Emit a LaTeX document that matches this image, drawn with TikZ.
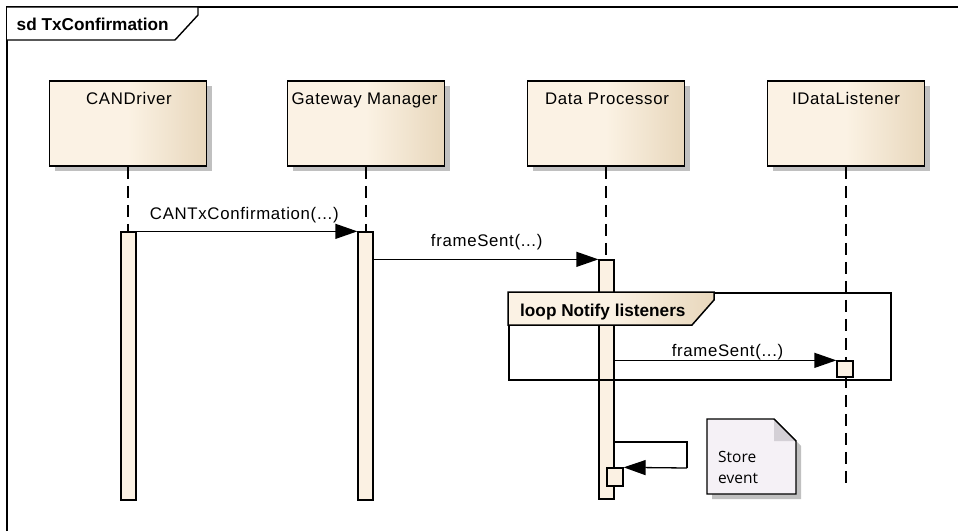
\documentclass[tikz,border=0pt]{standalone}
\usepackage{fontspec}
\setmainfont{Liberation Sans}
\newfontfamily\lblfont[LetterSpace=4]{Liberation Sans}
\newfontfamily\notefont{Open Sans}
\usetikzlibrary{arrows.meta,shadows}
\definecolor{headL}{RGB}{251,242,228}
\definecolor{headR}{RGB}{232,215,188}
\definecolor{barfill}{RGB}{251,241,227}
\definecolor{shadowgray}{RGB}{192,192,192}
\definecolor{notefill}{RGB}{245,241,246}
\definecolor{foldfill}{RGB}{212,208,214}
\pgfdeclarehorizontalshading{eagrad}{100bp}{color(0bp)=(headL); color(50bp)=(headL); color(75bp)=(headR); color(100bp)=(headR)}
\begin{document}
\begin{tikzpicture}[x=1pt,y=-1pt,
  lbl/.style={font=\lblfont\fontsize{16.8}{20}\selectfont, inner sep=0pt, anchor=base},
  blbl/.style={font=\bfseries\fontsize{17.2}{20}\selectfont, inner sep=0pt, anchor=base west},
  head/.style={draw=black, line width=1.5pt, shade, shading=eagrad, minimum width=157pt, minimum height=85pt, inner sep=0pt,
    drop shadow={shadow xshift=5pt, shadow yshift=-5pt, fill=shadowgray, opacity=1}},
  bar/.style={draw=black, line width=1.3pt, fill=barfill, minimum width=15pt, inner sep=0pt},
  life/.style={line width=1.4pt, dash pattern=on 12pt off 7pt},
  msg/.style={line width=1.3pt, -{Triangle[length=22pt,width=15pt]}},
  frm/.style={line width=1.4pt}]
\useasboundingbox (0,0) rectangle (958,531);
% outer frame
\draw[frm] (7,531) -- (7,7) -- (958,7);
\draw[frm, fill=white] (7,7) -- (198,7) -- (198,15) -- (175,40) -- (7,40);
\node[blbl] (sdlabel) at (16.5,30) {sd TxConfirmation};
% heads
\node[head] (hCAN) at (128,123.5) {};
\node[head] (hGW) at (366,123.5) {};
\node[head] (hDP) at (606,123.5) {};
\node[head] (hIDL) at (846,123.5) {};
\node[lbl] (tCAN) at (129,104) {CANDriver};
\node[lbl] (tGW) at (364.5,104) {Gateway Manager};
\node[lbl] (tDP) at (607,104) {Data Processor};
\node[lbl] (tIDL) at (846,104) {IDataListener};
% lifelines
\coordinate (eCAN) at (128,487);
\coordinate (eGW) at (366,487);
\coordinate (eDP) at (606,487);
\coordinate (eIDL) at (846,487);
\draw[life] (hCAN.south) -- (eCAN);
\draw[life] (hGW.south) -- (eGW);
\draw[life] (hDP.south) -- (eDP);
\draw[life] (hIDL.south) -- (eIDL);
% activation bars
\node[bar, minimum height=268pt] (bCAN) at (128.5,366) {};
\node[bar, minimum height=268pt] (bGW) at (365.5,366) {};
\node[bar, minimum height=239pt] (bDP) at (606.5,379.5) {};
\node[bar, minimum width=16pt, minimum height=16pt] (bIDL) at (845,369) {};
\node[bar, minimum width=16pt, minimum height=18pt] (bSelf) at (615,477) {};
% messages
\draw[msg] (bCAN.north east) -- (bGW.north west);
\node[lbl] (m1) at (244.3,219.3) {CANTxConfirmation(...)};
\draw[msg] (bGW.east |- bDP.north) -- (bDP.north west);
\node[lbl] (m2) at (486.7,246.5) {frameSent(...)};
% loop fragment
\node[draw, line width=1.5pt, minimum width=382pt, minimum height=87pt, inner sep=0pt, anchor=north west] (loopbox) at (508,292) {};
\path[draw, line width=1.5pt, shade, shading=eagrad] (loopbox.north west) -- ++(206,0) -- ++(0,8) -- ++(-22,25) -- (loopbox.north west |- 0,325) -- cycle;
\node[blbl] (looplabel) at (520,316.5) {loop Notify listeners};
\draw[msg] (bDP.east |- bIDL.north) -- (bIDL.north west);
\node[lbl] (m3) at (727.5,356) {frameSent(...)};
% self message
\coordinate (s1) at (687,442);
\coordinate (s2) at (687,468);
\draw[line width=1.3pt] (bDP.east |- s1) -- (s1) -- (s2);
\draw[msg] (s2) -- (bSelf.north east);
% note
\path[draw=black, line width=1.4pt, fill=notefill, drop shadow={shadow xshift=5pt, shadow yshift=-5pt, fill=shadowgray, opacity=1}]
  (707,419) -- (774,419) -- (796,441) -- (796,494) -- (707,494) -- cycle;
\fill[foldfill] (774,420) -- (795,441) -- (774,441) -- cycle;
\draw[line width=1.4pt] (774,419) -- (796,441);
\node[font=\notefont\fontsize{15.5}{20}\selectfont, inner sep=0pt, anchor=base west] (n1) at (718,462.5) {Store};
\node[font=\notefont\fontsize{15.5}{20}\selectfont, inner sep=0pt, anchor=base west] (n2) at (718,483.5) {event};
\end{tikzpicture}
\end{document}
